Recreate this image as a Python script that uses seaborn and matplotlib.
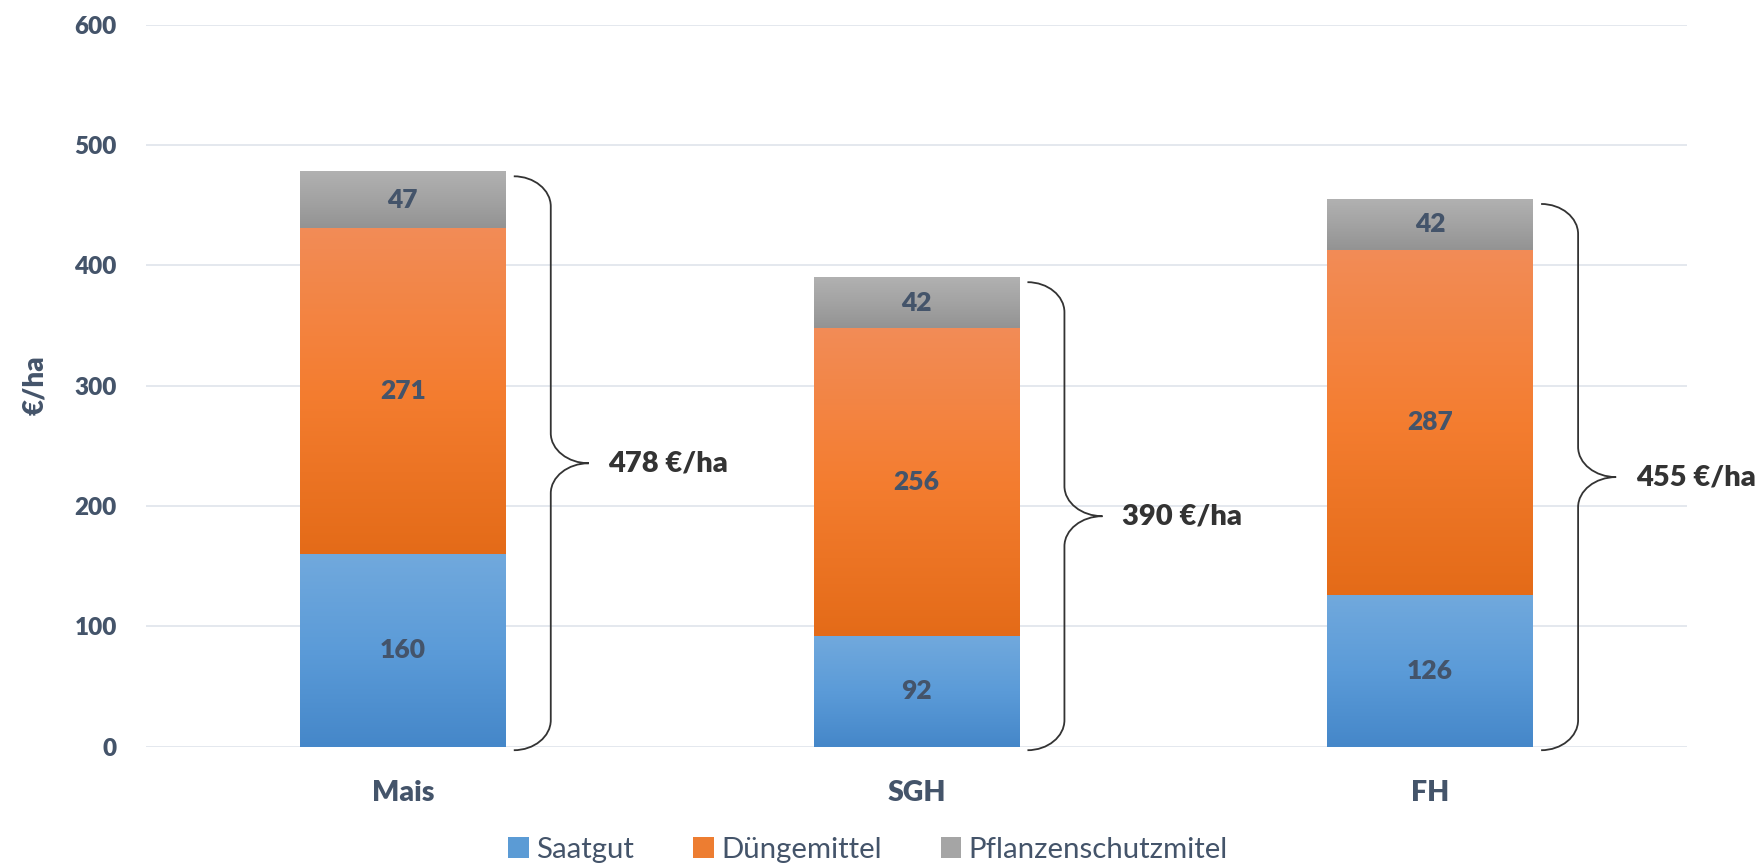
import numpy as np
import pandas as pd
import matplotlib
matplotlib.use("Agg")
import matplotlib.pyplot as plt
import seaborn as sns
from matplotlib.colors import LinearSegmentedColormap
from matplotlib.patches import Patch
from matplotlib.path import Path
from matplotlib.patches import PathPatch

# ---- data ----
categories = ["Mais", "SGH", "FH"]
series_names = ["Saatgut", "Düngemittel", "Pflanzenschutzmitel"]
saatgut = [160, 92, 126]
duengemittel = [271, 256, 287]
pflanzenschutz = [47, 42, 42]
totals = [478, 390, 455]
y_ticks = [0, 100, 200, 300, 400, 500, 600]
y_label = "€/ha"
total_suffix = " €/ha"

# ---- style ----
sns.set_theme(style="white")
plt.rcParams["font.family"] = ["Lato", "DejaVu Sans"]
TXT = "#44546A"
BW = "heavy"
grads = [
    ["#71A9DD", "#5B9BD8", "#4587C9"],
    ["#F28C57", "#F47D30", "#E46B18"],
    ["#B1B1B1", "#A3A3A3", "#939393"],
]
solid = ["#5B9BD5", "#ED7D31", "#A5A5A5"]

W, H = 1763, 868
fig = plt.figure(figsize=(W / 100, H / 100), dpi=100)
ax_l, ax_r, ax_t, ax_b = 146, 1687, 24.7, 746.6
ax = fig.add_axes([ax_l / W, 1 - ax_b / H, (ax_r - ax_l) / W, (ax_b - ax_t) / H])

series = [saatgut, duengemittel, pflanzenschutz]
bottom = np.zeros(len(categories))
for vals, col in zip(series, solid):
    df = pd.DataFrame({"Kultur": categories, "Wert": vals})
    sns.barplot(data=df, x="Kultur", y="Wert", color=col, width=0.4,
                bottom=bottom.copy(), errorbar=None, ax=ax, saturation=1,
                zorder=2, linewidth=0)
    bottom += np.array(vals)

# gradient overlay on each bar
for cont, g in zip(ax.containers, grads):
    cmap = LinearSegmentedColormap.from_list("g", g)
    for p, v in zip(cont.patches, cont.datavalues):
        x0, y0, w, h = p.get_x(), p.get_y(), p.get_width(), p.get_height()
        grad = np.linspace(0, 1, 256).reshape(-1, 1)
        im = ax.imshow(grad, extent=[x0, x0 + w, y0, y0 + h], origin="upper",
                       cmap=cmap, aspect="auto", zorder=3, interpolation="bilinear")
        im.set_clip_path(p)
        ax.text(x0 + w / 2, y0 + h / 2, f"{int(v)}", ha="center", va="center",
                fontsize=19, fontweight=BW, color=TXT, zorder=5)

ax.set_xlim(-0.5, len(categories) - 0.5)
ax.set_ylim(0, 600)
ax.set_yticks(y_ticks)
ax.set_yticklabels([str(t) for t in y_ticks])
ax.grid(axis="y", color="#E2E6ED", linewidth=1.3, zorder=0)
ax.grid(axis="x", visible=False)
for s in ax.spines.values():
    s.set_visible(False)
ax.set_xlabel("")
ax.set_ylabel("")
ax.tick_params(axis="y", length=0, pad=21, labelsize=17.5, labelcolor=TXT)
ax.tick_params(axis="x", length=0, pad=24, labelsize=20.5, labelcolor=TXT)
for lab in ax.get_xticklabels() + ax.get_yticklabels():
    lab.set_fontweight(BW)

fig.text(35 / W, 1 - 385.6 / H, y_label, rotation=90, ha="center", va="center",
         fontsize=20, fontweight=BW, color=TXT)

# braces with totals
k = 0.55
bar_half = 0.2
for i, tot in enumerate(totals):
    xs = i + bar_half + 0.016
    xv = i + bar_half + 0.088
    xt = i + bar_half + 0.162
    yt = tot - 4
    yb = -3
    ym = (yt + yb) / 2
    ry = 25
    rx1 = xv - xs
    rx2 = xt - xv
    verts = [
        (xs, yt),
        (xs + k * rx1, yt), (xv, yt - ry + k * ry), (xv, yt - ry),
        (xv, ym + ry),
        (xv, ym + ry - k * ry), (xt - k * rx2, ym), (xt, ym),
        (xt - k * rx2, ym), (xv, ym - ry + k * ry), (xv, ym - ry),
        (xv, yb + ry),
        (xv, yb + ry - k * ry), (xs + k * rx1, yb), (xs, yb),
    ]
    codes = [Path.MOVETO,
             Path.CURVE4, Path.CURVE4, Path.CURVE4,
             Path.LINETO,
             Path.CURVE4, Path.CURVE4, Path.CURVE4,
             Path.CURVE4, Path.CURVE4, Path.CURVE4,
             Path.LINETO,
             Path.CURVE4, Path.CURVE4, Path.CURVE4]
    pp = PathPatch(Path(verts, codes), facecolor="none", edgecolor="#333333",
                   linewidth=1.3, clip_on=False, zorder=4)
    ax.add_patch(pp)
    ax.text(i + bar_half + 0.2, ym, f"{tot}{total_suffix}", ha="left", va="center",
            fontsize=21, fontweight=BW, color="#333333", clip_on=False)

handles = [Patch(facecolor=c, edgecolor="none") for c in solid]
fig.legend(handles, series_names, loc="center", bbox_to_anchor=(772 * 1.1244 / W, 1 - 850 / H),
           ncol=3, frameon=False, fontsize=21.2, handlelength=0.7, handleheight=0.7,
           handletextpad=0.25, columnspacing=2.0, labelcolor=TXT)

fig.savefig("out.png", dpi=100)
